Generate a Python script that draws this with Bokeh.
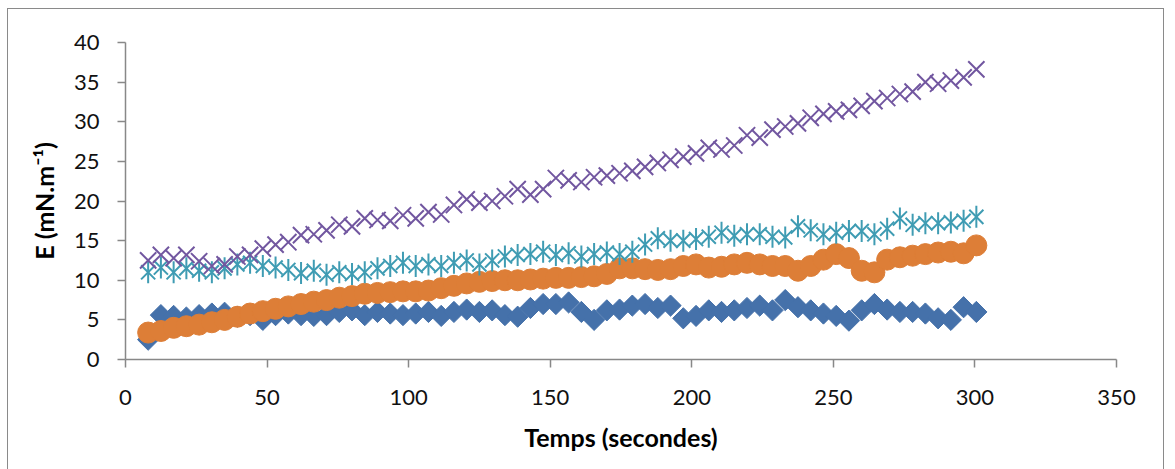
import math
from bokeh.plotting import figure
from bokeh.embed import file_html
from bokeh.resources import INLINE
from bokeh.models import Range1d, FixedTicker

# Time (s)
temps = [8, 12.5, 17, 21.5, 26, 30.5, 35, 39.5, 44, 48.5, 53, 57.5, 62, 66.5, 71, 75.5,
         80, 84.5, 89, 93.5, 98, 102.5, 107, 111.5, 116, 120.5, 125, 129.5, 134, 138.5,
         143, 147.5, 152, 156.5, 161, 165.5, 170, 174.5, 179, 183.5, 188, 192.5, 197,
         201.5, 206, 210.5, 215, 219.5, 224, 228.5, 233, 237.5, 242, 246.5, 251, 255.5,
         260, 264.5, 269, 273.5, 278, 282.5, 287, 291.5, 296, 300.5]

serie_bleue = [2.5, 5.6, 5.5, 5.3, 5.6, 5.8, 5.9, 5.4, 5.6, 5.0, 5.6, 5.8, 5.6, 5.5, 5.6, 6.0,
               6.2, 5.6, 6.0, 5.8, 5.6, 5.8, 6.0, 5.5, 6.0, 6.3, 6.0, 6.2, 5.6, 5.4,
               6.5, 7.0, 7.0, 7.2, 6.0, 5.0, 6.2, 6.3, 6.8, 7.0, 6.5, 6.8, 5.2,
               5.5, 6.2, 6.0, 6.2, 6.5, 6.8, 6.2, 7.5, 6.6, 6.2, 5.8, 5.5, 4.9,
               6.2, 7.0, 6.3, 6.0, 6.0, 5.8, 5.2, 5.0, 6.6, 6.0]

serie_orange = [3.4, 3.6, 4.0, 4.2, 4.4, 4.7, 5.0, 5.4, 5.8, 6.1, 6.4, 6.7, 7.0, 7.3, 7.5, 7.8,
                8.0, 8.3, 8.4, 8.5, 8.6, 8.6, 8.7, 9.0, 9.3, 9.6, 9.8, 9.9, 10.0, 10.0,
                10.1, 10.2, 10.3, 10.3, 10.4, 10.5, 10.8, 11.5, 11.5, 11.4, 11.3, 11.4, 11.8,
                12.0, 11.6, 11.7, 12.0, 12.2, 12.0, 11.8, 11.8, 11.2, 11.8, 12.6, 13.3, 12.8,
                11.2, 11.0, 12.6, 12.9, 13.1, 13.3, 13.5, 13.6, 13.4, 14.4]

serie_turquoise = [11.0, 11.6, 11.0, 11.5, 11.2, 11.0, 11.5, 12.0, 12.2, 11.8, 11.6, 11.3, 10.9, 11.2, 10.7, 11.0,
                   10.8, 11.0, 11.5, 11.8, 12.2, 11.8, 12.0, 11.8, 12.2, 12.5, 12.0, 12.5, 13.0, 13.2,
                   13.3, 13.6, 13.2, 13.4, 13.0, 13.3, 13.5, 13.3, 13.6, 14.5, 15.3, 15.0, 15.0,
                   15.2, 15.5, 16.0, 15.6, 15.8, 15.8, 15.5, 15.4, 16.8, 16.3, 15.8, 16.0, 16.2,
                   16.2, 15.8, 16.5, 17.8, 17.0, 17.2, 17.2, 17.3, 17.5, 18.0]

serie_violette = [12.5, 13.2, 12.8, 13.2, 12.4, 11.8, 12.0, 13.0, 13.2, 14.0, 14.5, 14.8, 15.7, 15.8, 16.3, 17.0,
                  16.8, 17.8, 17.6, 17.5, 18.2, 17.8, 18.6, 18.3, 19.5, 20.2, 19.8, 20.0, 20.6, 21.5,
                  20.8, 21.5, 22.9, 22.6, 22.4, 23.0, 23.2, 23.5, 23.8, 24.3, 24.8, 25.2, 25.6,
                  26.0, 26.7, 26.5, 27.0, 28.3, 28.0, 29.0, 29.4, 29.8, 30.5, 31.0, 31.3, 31.5,
                  32.0, 32.6, 33.0, 33.5, 33.8, 35.0, 34.8, 35.2, 35.6, 36.6]

x_ticks = [0, 50, 100, 150, 200, 250, 300, 350]
y_ticks = [0, 5, 10, 15, 20, 25, 30, 35, 40]

FONT = "Lato"

p = figure(width=1157, height=461, output_backend="svg", toolbar_location=None,
           x_range=Range1d(0, 350), y_range=Range1d(0, 40),
           min_border_left=117, min_border_right=49, min_border_top=33, min_border_bottom=111)

p.styles = {"border-top": "1.5px solid #8a8a8a", "border-left": "1.5px solid #8a8a8a",
            "border-right": "1.5px solid #8a8a8a", "margin-left": "7px", "margin-top": "8px"}

p.outline_line_color = None
p.xgrid.grid_line_color = None
p.ygrid.grid_line_color = None

for ax in (p.xaxis[0], p.yaxis[0]):
    ax.axis_line_color = "#888888"
    ax.axis_line_width = 1.5
    ax.major_tick_line_color = "#888888"
    ax.major_tick_line_width = 1.5
    ax.major_tick_in = 0
    ax.major_tick_out = 8
    ax.minor_tick_line_color = None
    ax.major_label_text_font = FONT
    ax.major_label_text_font_size = "22px"
    ax.major_label_text_color = "#111111"
    ax.axis_label_text_font = FONT
    ax.axis_label_text_font_size = "25px"
    ax.axis_label_text_font_style = "bold"
    ax.axis_label_text_color = "#000000"

p.xaxis.ticker = FixedTicker(ticks=x_ticks)
p.yaxis.ticker = FixedTicker(ticks=y_ticks)
p.xaxis.major_label_standoff = 22
p.yaxis.major_label_standoff = 18
p.xaxis.axis_label = "Temps (secondes)"
p.yaxis.axis_label = "E (mN.m⁻¹)"
p.xaxis.axis_label_standoff = 14
p.yaxis.axis_label_standoff = 12

BLUE, ORANGE, TEAL, PURPLE = "#4571AA", "#DD7E37", "#3F9CB3", "#7257A0"

# Blue diamonds (rotated squares, as in the original)
p.scatter(temps, serie_bleue, marker="square", angle=math.pi / 4, size=15,
          fill_color=BLUE, line_color=BLUE)
# Orange circles
p.scatter(temps, serie_orange, marker="circle", size=21, fill_color=ORANGE,
          line_color=ORANGE)
# Teal stars (x + vertical bar)
p.scatter(temps, serie_turquoise, marker="x", size=20, line_color=TEAL, line_width=2)
p.scatter(temps, serie_turquoise, marker="dash", angle=math.pi / 2, size=22,
          line_color=TEAL, line_width=2)
# Purple crosses
p.scatter(temps, serie_violette, marker="x", size=23, line_color=PURPLE, line_width=2)

open("out.html", "w").write(file_html(p, INLINE))
